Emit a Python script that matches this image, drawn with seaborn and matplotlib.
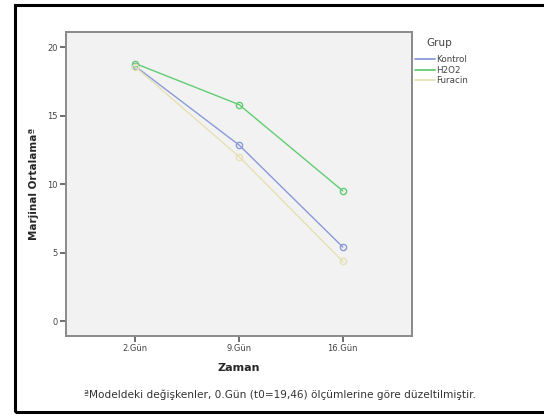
import pandas as pd
import matplotlib
matplotlib.use('Agg')
import matplotlib.pyplot as plt
import seaborn as sns
from matplotlib.patches import Rectangle
from matplotlib.lines import Line2D

# values
zaman = ['2.Gün', '9.Gün', '16.Gün']
kontrol = [18.6, 12.85, 5.4]
h2o2 = [18.8, 15.8, 9.5]
furacin = [18.55, 12.0, 4.35]
gruplar = ['Kontrol', 'H2O2', 'Furacin']
renkler = ['#8a9ad8', '#62cc73', '#e6e0b4']

df = pd.DataFrame({
    'Zaman': zaman * 3,
    'Ortalama': kontrol + h2o2 + furacin,
    'Grup': [g for g in gruplar for _ in zaman],
})

sns.set_style('white')
plt.rcParams['font.family'] = ['DejaVu Sans']

fig = plt.figure(figsize=(5.44, 4.16), dpi=100)
ax = fig.add_axes([0.121, 0.192, 0.637, 0.731])
ax.set_facecolor('#f2f2f2')

sns.lineplot(data=df, x='Zaman', y='Ortalama', hue='Grup', hue_order=gruplar,
             palette=renkler, marker='o', markersize=4.5, markerfacecolor='none',
             markeredgewidth=1, linewidth=1.0, sort=False, legend=False, ax=ax)
for line, c in zip(ax.lines, renkler):
    line.set_markeredgecolor(c)

ax.set_xlim(-0.67, 2.67)
ax.set_ylim(-1.1, 21.1)
ax.set_yticks([0, 5, 10, 15, 20])

for s in ax.spines.values():
    s.set_color('#8a8a8a')
    s.set_linewidth(1.4)
ax.tick_params(axis='both', direction='out', length=4, width=1.2, color='#555555',
               labelsize=6, labelcolor='#444444', pad=2, left=True, bottom=True)

ax.set_xlabel('Zaman', fontsize=8, fontweight='bold', labelpad=7)
ax.set_ylabel('Marjinal Ortalamaª', fontsize=7.5, fontweight='bold', labelpad=6)

# legend title drawn separately so the entries sit a little lower
fig.text(0.807, 0.897, 'Grup', ha='center', va='center', fontsize=7.5, color='#444444')
handles = [Line2D([0], [0], color=c, lw=1.3) for c in renkler]
leg = fig.legend(handles, gruplar, loc='upper left',
                 bbox_to_anchor=(0.757, 0.875), frameon=False, fontsize=6.3,
                 handlelength=2.2, handletextpad=0.15,
                 labelspacing=0.15, borderaxespad=0)
for t in leg.get_texts():
    t.set_color('#444444')

fig.text(0.515, 0.05, 'ªModeldeki değişkenler, 0.Gün (t0=19,46) ölçümlerine göre düzeltilmiştir.',
         ha='center', va='center', fontsize=7.6, color='#333333')

fig.add_artist(Rectangle((0.027, 0.009), 1.1, 0.98, transform=fig.transFigure,
                         fill=False, edgecolor='black', linewidth=2.2))

fig.savefig('out.png', dpi=100)
